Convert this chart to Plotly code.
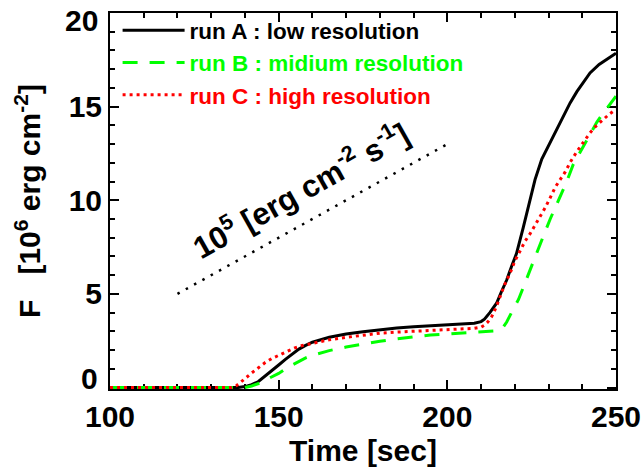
import plotly.graph_objects as go

# ---- data ----
time_a = [100, 120, 138, 140, 142, 144, 146, 148, 150, 152, 154, 156, 158, 160, 165, 170, 175, 180, 185, 190,
          195, 200, 205, 208, 210, 211, 212.6, 214.6, 216, 217.6, 219, 220.5, 222.5, 224.5, 226, 228, 230, 232.4,
          234.4, 236.4, 238.4, 240, 242.3, 245, 247.5, 250]
flux_a = [0, 0, 0, 0.05, 0.15, 0.32, 0.6, 0.9, 1.2, 1.5, 1.8, 2.05, 2.25, 2.42, 2.68, 2.86, 2.98, 3.09, 3.18, 3.25,
          3.3, 3.35, 3.39, 3.43, 3.52, 3.65, 4.0, 4.5, 5.1, 5.74, 6.45, 7.15, 8.54, 10.1, 11.1, 12.2, 12.9, 13.8,
          14.5, 15.2, 15.8, 16.2, 16.8, 17.25, 17.55, 17.85]

time_b = [100, 120, 140, 142, 144.3, 147, 150, 152.5, 155.6, 158, 160, 165, 170, 175, 180, 185, 190, 195, 200, 205,
          210, 213, 215.1, 216.5, 217.6, 218.6, 220.2, 221.1, 222.3, 223.6, 225.5, 227, 228.5, 230.5, 232.4, 234,
          235.4, 237.3, 239, 241.3, 242.8, 244.3, 246, 248, 250]
flux_b = [0, 0, 0, 0.08, 0.23, 0.48, 0.75, 1.05, 1.37, 1.58, 1.72, 1.97, 2.16, 2.33, 2.47, 2.6, 2.72, 2.8, 2.86, 2.91,
          2.95, 2.99, 3.03, 3.2, 3.5, 3.85, 4.4, 4.7, 5.25, 5.85, 6.8, 7.45, 8.1, 9.0, 9.77, 10.45,
          11.0, 11.9, 12.45, 13.2, 13.7, 14.16, 14.6, 15.1, 15.56]

time_c = [100, 120, 136, 137.5, 139, 140.2, 142, 144.3, 146, 148, 150, 152, 154.6, 157, 160, 165, 170, 175, 180, 185,
          190, 195, 200, 205, 208, 210, 211, 212, 213.2, 214.5, 215.7, 217, 218.6, 220, 221.6, 223, 224.5, 226, 227.4,
          229, 230.4, 232, 234.9, 236.5, 238.4, 240, 242.3, 244, 246.3, 248, 250]
flux_c = [0, 0, 0, 0.1, 0.3, 0.5, 0.78, 1.1, 1.33, 1.55, 1.72, 1.9, 2.1, 2.24, 2.37, 2.55, 2.68, 2.8, 2.9, 2.96,
          3.0, 3.05, 3.09, 3.12, 3.16, 3.22, 3.33, 3.5, 3.8, 4.3, 4.86, 5.5, 6.1, 6.75, 7.3, 7.8, 8.2, 8.65, 9.07,
          9.6, 10.1, 10.7, 11.5, 12.05, 12.6, 13.0, 13.6, 13.95, 14.33, 14.6, 14.86]

ref_time = [120, 200]
ref_flux = [5, 13]

names = ["run A : low resolution", "run B : midium resolution", "run C : high resolution"]
colors = ["#000000", "#00ff00", "#ff0000"]

x_ticks = [100, 150, 200, 250]
y_ticks = [0, 5, 10, 15, 20]

FONT = "Liberation Sans, Arial, Helvetica, sans-serif"

fig = go.Figure()
fig.add_trace(go.Scatter(x=time_a, y=flux_a, mode="lines", legendgroup="a",
                         name=f"<span style='color:{colors[0]}'>{names[0]}</span>",
                         line=dict(color=colors[0], width=3)))
fig.add_trace(go.Scatter(x=time_b, y=flux_b, mode="lines", legendgroup="b",
                         name=f"<span style='color:{colors[1]}'>{names[1]}</span>",
                         line=dict(color=colors[1], width=3, dash="15px,12px")))
fig.add_trace(go.Scatter(x=time_c, y=flux_c, mode="lines", legendgroup="c",
                         name=f"<span style='color:{colors[2]}'>{names[2]}</span>",
                         line=dict(color=colors[2], width=3, dash="3px,4px")))
fig.add_trace(go.Scatter(x=ref_time, y=ref_flux, mode="lines", showlegend=False,
                         line=dict(color="black", width=2.5, dash="2.5px,7px")))

fig.add_annotation(x=156.3, y=10.6, xref="x", yref="y",
                   text="10<sup>5</sup> [erg cm<sup>-2</sup> s<sup>-1</sup>]",
                   showarrow=False, textangle=-29.4,
                   font=dict(family=FONT, size=31, color="black", weight="bold"))

tickfont = dict(family=FONT, size=30, color="black", weight="bold")
# end tick labels of the y axis are nudged inward, as in the reference
fig.add_annotation(x=0, y=y_ticks[0], xref="paper", yref="y", text=str(y_ticks[0]),
                   showarrow=False, xanchor="right", xshift=-10, yshift=9, font=tickfont)
fig.add_annotation(x=0, y=y_ticks[-1], xref="paper", yref="y", text=str(y_ticks[-1]),
                   showarrow=False, xanchor="right", xshift=-10, yshift=-7, font=tickfont)

axis_common = dict(showline=True, linecolor="black", linewidth=2, mirror="ticks",
                   ticks="inside", tickcolor="black", tickwidth=1.5, ticklen=9,
                   showgrid=False, zeroline=False, layer="below traces",
                   automargin=False, ticklabeloverflow="allow",
                   tickfont=tickfont)

fig.update_xaxes(range=[100, 250], tickvals=x_ticks, ticktext=[str(v) for v in x_ticks],
                 minor=dict(dtick=10, ticklen=5, tickcolor="black", tickwidth=1.5, ticks="inside", showgrid=False),
                 title=dict(text="Time [sec]", standoff=8,
                            font=dict(family=FONT, size=30, color="black", weight="bold")),
                 **axis_common)
fig.update_yaxes(range=[-0.08, 20], tickvals=y_ticks,
                 ticktext=[""] + [str(v) for v in y_ticks[1:-1]] + [""],
                 minor=dict(dtick=1, tick0=0, ticklen=5, tickcolor="black", tickwidth=1.5, ticks="inside", showgrid=False),
                 title=dict(text="F&nbsp;&nbsp;&nbsp;[10<sup>6</sup> erg cm<sup>-2</sup>]", standoff=19,
                            font=dict(family=FONT, size=30, color="black", weight="bold")),
                 **axis_common)

fig.update_layout(
    width=643, height=476,
    margin=dict(l=110, r=27, t=9, b=87),
    paper_bgcolor="white", plot_bgcolor="white",
    showlegend=True,
    legend=dict(x=0.015, y=1.01, xanchor="left", yanchor="top",
                bgcolor="rgba(0,0,0,0)", borderwidth=0,
                font=dict(family=FONT, size=22.5, color="black", weight="bold"),
                itemwidth=62, tracegroupgap=0),
)

fig.write_html("out.html", config={"displayModeBar": False},
               post_script="document.body.style.margin='0';document.body.style.overflow='hidden';")
